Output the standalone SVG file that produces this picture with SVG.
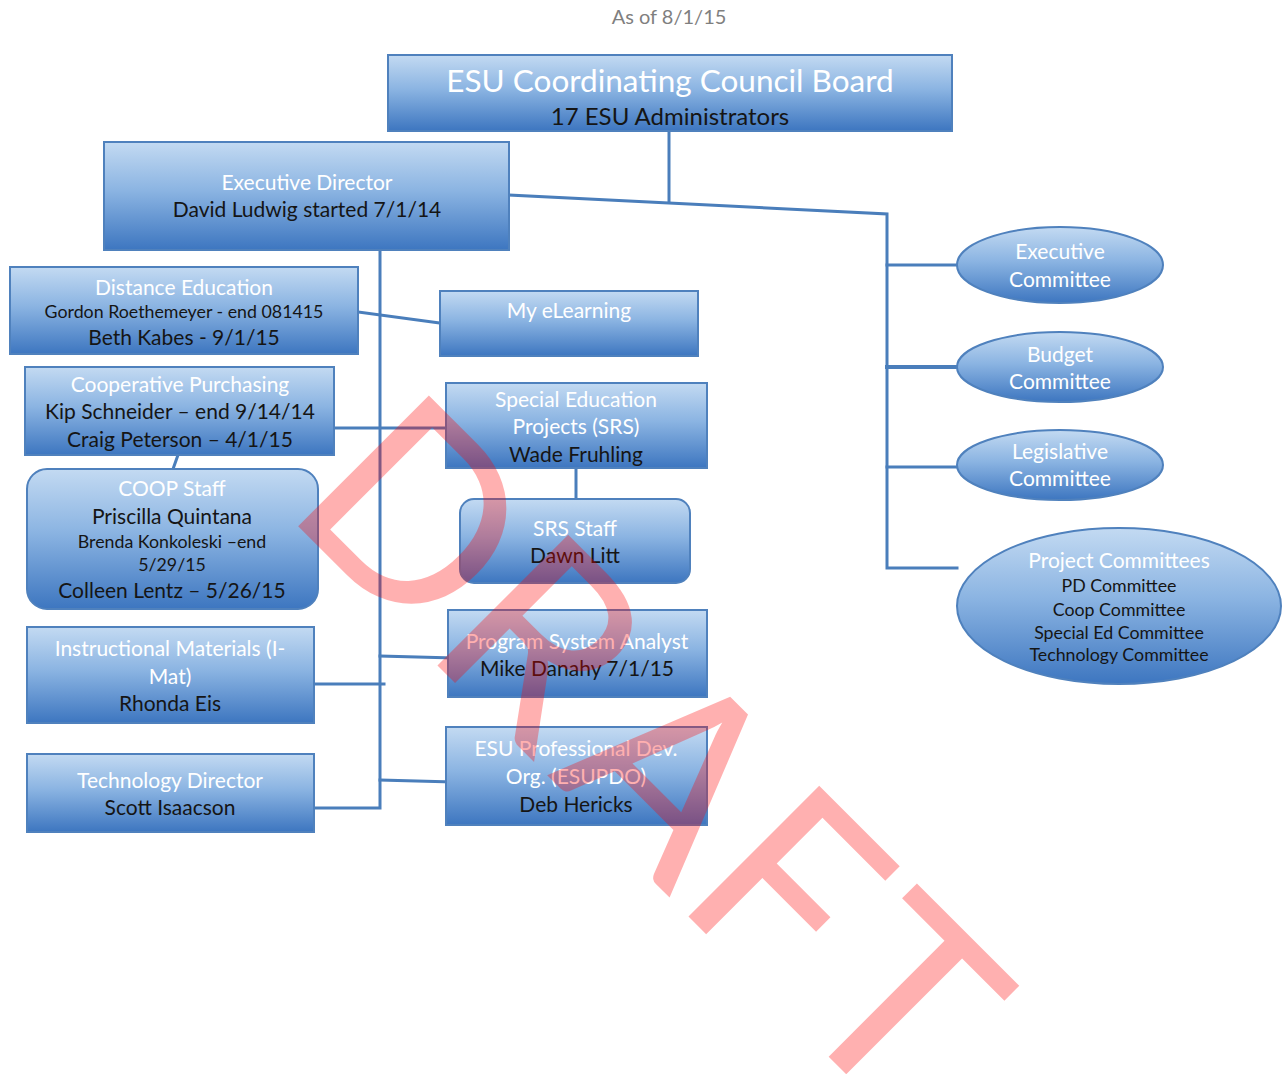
<svg xmlns="http://www.w3.org/2000/svg" width="1286" height="1074" viewBox="0 0 1286 1074">
<defs>
<linearGradient id="g" x1="0" y1="0" x2="0" y2="1">
<stop offset="0" stop-color="#c3daf2"/>
<stop offset="0.45" stop-color="#8bb4e2"/>
<stop offset="1" stop-color="#3d76c0"/>
</linearGradient>
<style>
.box{fill:url(#g);stroke:#4f81bd;stroke-width:2}
.ln{stroke:#4a7ebb;stroke-width:3;fill:none;stroke-linecap:square}
text{font-family:Lato,"Open Sans","Liberation Sans",sans-serif;text-anchor:middle}
.w{fill:#ffffff;font-size:21px}
.k{fill:#151515;font-size:21px}
.s{fill:#151515;font-size:17.8px}
</style>
</defs>
<rect width="1286" height="1074" fill="#ffffff"/>
<text x="669" y="24" style="fill:#7f7f7f;font-size:20px">As of 8/1/15</text>
<g id="connectors">
<path class="ln" d="M669,131 V202"/>
<path class="ln" d="M509,195 L887,214 V568 H957"/>
<path class="ln" d="M887,265 H957"/>
<path class="ln" d="M887,367 H957" style="stroke-width:4"/>
<path class="ln" d="M887,467 H957"/>
<path class="ln" d="M380,250 V808 H314"/>
<path class="ln" d="M358,312 L440,323"/>
<path class="ln" d="M312,428 H446"/>
<path class="ln" d="M178,455 L173,469"/>
<path class="ln" d="M576,468 V499"/>
<path class="ln" d="M380,656 L453,658"/>
<path class="ln" d="M308,684 H384"/>
<path class="ln" d="M380,780 L452,782"/>
</g>
<g id="board">
<rect class="box" x="388" y="55" width="564" height="76"/>
<text x="670" y="92" style="fill:#fff;font-size:31.5px">ESU Coordinating Council Board</text>
<text x="670" y="125" style="fill:#151515;font-size:24px">17 ESU Administrators</text>
</g>
<g id="exec-director">
<rect class="box" x="104" y="142" width="405" height="108"/>
<text class="w" x="307" y="190">Executive Director</text>
<text class="k" x="307" y="217">David Ludwig started 7/1/14</text>
</g>
<g id="distance-ed">
<rect class="box" x="10" y="267" width="348" height="87"/>
<text class="w" x="184" y="295">Distance Education</text>
<text class="s" x="184" y="318">Gordon Roethemeyer - end 081415</text>
<text class="k" x="184" y="345">Beth Kabes - 9/1/15</text>
</g>
<g id="my-elearning">
<rect class="box" x="440" y="291" width="258" height="65"/>
<text class="w" x="569" y="318">My eLearning</text>
</g>
<g id="coop-purchasing">
<rect class="box" x="25" y="367" width="309" height="88"/>
<text class="w" x="180" y="392">Cooperative Purchasing</text>
<text class="k" x="180" y="419">Kip Schneider – end 9/14/14</text>
<text class="k" x="180" y="447">Craig Peterson – 4/1/15</text>
</g>
<g id="coop-staff">
<rect class="box" x="27" y="469" width="291" height="140" rx="20"/>
<text class="w" x="172" y="496">COOP Staff</text>
<text class="k" x="172" y="524">Priscilla Quintana</text>
<text class="s" x="172" y="548">Brenda Konkoleski –end</text>
<text class="s" x="172" y="571">5/29/15</text>
<text class="k" x="172" y="598">Colleen Lentz – 5/26/15</text>
</g>
<g id="special-ed">
<rect class="box" x="446" y="383" width="261" height="85"/>
<text class="w" x="576" y="407">Special Education</text>
<text class="w" x="576" y="434">Projects (SRS)</text>
<text class="k" x="576" y="462">Wade Fruhling</text>
</g>
<g id="srs-staff">
<rect class="box" x="460" y="499" width="230" height="84" rx="14"/>
<text class="w" x="575" y="536">SRS Staff</text>
<text class="k" x="575" y="563">Dawn Litt</text>
</g>
<g id="program-analyst">
<rect class="box" x="448" y="610" width="259" height="87"/>
<text class="w" x="577" y="649">Program System Analyst</text>
<text class="k" x="577" y="676">Mike Danahy 7/1/15</text>
</g>
<g id="esupdo">
<rect class="box" x="446" y="727" width="261" height="98"/>
<text class="w" x="576" y="756">ESU Professional Dev.</text>
<text class="w" x="576" y="784">Org. (ESUPDO)</text>
<text class="k" x="576" y="812">Deb Hericks</text>
</g>
<g id="imat">
<rect class="box" x="27" y="627" width="287" height="96"/>
<text class="w" x="170" y="656">Instructional Materials (I-</text>
<text class="w" x="170" y="684">Mat)</text>
<text class="k" x="170" y="711">Rhonda Eis</text>
</g>
<g id="tech-director">
<rect class="box" x="27" y="754" width="287" height="78"/>
<text class="w" x="170" y="788">Technology Director</text>
<text class="k" x="170" y="815">Scott Isaacson</text>
</g>
<g id="exec-committee">
<ellipse class="box" cx="1060" cy="265" rx="103" ry="38"/>
<text class="w" x="1060" y="259">Executive</text>
<text class="w" x="1060" y="287">Committee</text>
</g>
<g id="budget-committee">
<ellipse class="box" cx="1060" cy="367" rx="103" ry="35"/>
<text class="w" x="1060" y="362">Budget</text>
<text class="w" x="1060" y="389">Committee</text>
</g>
<g id="legislative-committee">
<ellipse class="box" cx="1060" cy="465" rx="103" ry="35"/>
<text class="w" x="1060" y="459">Legislative</text>
<text class="w" x="1060" y="486">Committee</text>
</g>
<g id="project-committees">
<ellipse class="box" cx="1119" cy="606" rx="162" ry="78"/>
<text class="w" x="1119" y="568">Project Committees</text>
<text class="s" x="1119" y="592">PD Committee</text>
<text class="s" x="1119" y="616">Coop Committee</text>
<text class="s" x="1119" y="639">Special Ed Committee</text>
<text class="s" x="1119" y="661">Technology Committee</text>
</g>
<g id="watermark">
<text transform="translate(297,525) rotate(45)" x="-22 175 353 530 688" y="0" style="font-size:258px;fill:#ff0000;fill-opacity:0.31;text-anchor:start">DRAFT</text>
</g>
</svg>
